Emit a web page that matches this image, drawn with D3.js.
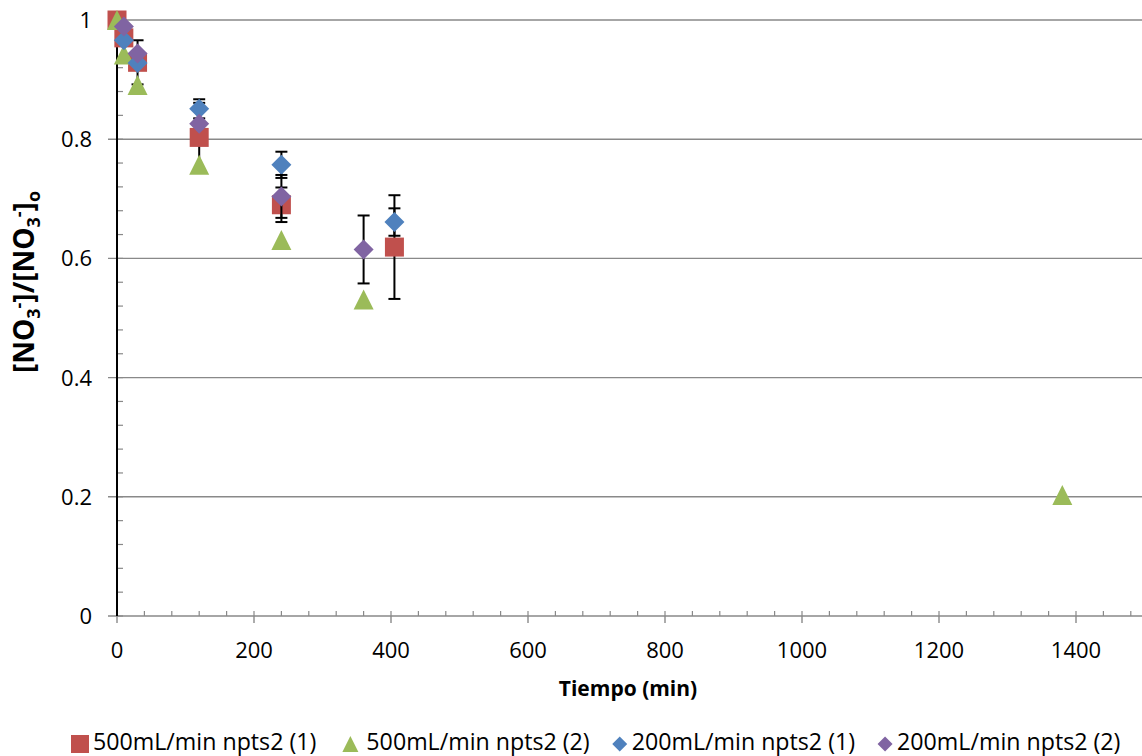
<!DOCTYPE html>
<html>
<head>
<meta charset="utf-8">
<script src="https://cdn.jsdelivr.net/npm/d3@7"></script>
<style>
  body { margin: 0; background: #fff; }
  svg { display: block; font-family: "Open Sans", sans-serif; }
</style>
</head>
<body>
<div id="chart"></div>
<script>
// ---- data ----
const seriesNames = ["500mL/min npts2 (1)", "500mL/min npts2 (2)", "200mL/min npts2 (1)", "200mL/min npts2 (2)"];
const seriesColors = ["#C0504D", "#9BBB59", "#4F81BD", "#8064A2"];
const seriesShapes = ["square", "triangle", "diamond", "diamond"];

const time1 = [0, 10, 30, 120, 240, 405];
const ratio1 = [1.0, 0.970, 0.929, 0.803, 0.690, 0.619];
const err1 = [0, 0, 0.037, 0.058, 0.029, 0.087];

const time2 = [0, 10, 30, 120, 240, 360, 1380];
const ratio2 = [1.0, 0.942, 0.891, 0.757, 0.631, 0.531, 0.203];
const err2 = [0, 0, 0, 0, 0, 0, 0];

const time3 = [10, 30, 120, 240, 405];
const ratio3 = [0.966, 0.928, 0.851, 0.757, 0.661];
const err3 = [0, 0, 0.016, 0.022, 0.023];

const time4 = [10, 30, 120, 240, 360];
const ratio4 = [0.989, 0.944, 0.826, 0.704, 0.615];
const err4 = [0, 0, 0, 0.036, 0.057];

const xTicks = [0, 200, 400, 600, 800, 1000, 1200, 1400];
const yTicks = [0, 0.2, 0.4, 0.6, 0.8, 1];

const W = 1142, H = 756;
const svg = d3.select("#chart").append("svg")
    .attr("width", W).attr("height", H);

const x = d3.scaleLinear().domain([0, 1500]).range([117, 1144.5]);
const y = d3.scaleLinear().domain([0, 1]).range([616, 20]);

const grey = "#898989";

// gridlines (also serve as the left major ticks)
svg.append("g").selectAll("line")
    .data(yTicks.filter(d => d > 0))
    .join("line")
    .attr("x1", 108).attr("x2", W)
    .attr("y1", d => y(d)).attr("y2", d => y(d))
    .attr("stroke", grey).attr("stroke-width", 1.4);

// x axis
const xAxis = svg.append("g");
xAxis.append("line")
    .attr("x1", 108).attr("x2", W).attr("y1", y(0)).attr("y2", y(0))
    .attr("stroke", grey).attr("stroke-width", 1.4);
xAxis.selectAll(".minor")
    .data(d3.range(0, 1500, 40))
    .join("line")
    .attr("x1", d => x(d)).attr("x2", d => x(d))
    .attr("y1", y(0)).attr("y2", y(0) - 5)
    .attr("stroke", grey).attr("stroke-width", 1.2);
xAxis.selectAll(".major")
    .data(xTicks)
    .join("line")
    .attr("x1", d => x(d)).attr("x2", d => x(d))
    .attr("y1", y(0)).attr("y2", y(0) + 7)
    .attr("stroke", grey).attr("stroke-width", 1.4);
xAxis.selectAll("text")
    .data(xTicks)
    .join("text")
    .attr("x", d => x(d)).attr("y", 658)
    .attr("text-anchor", "middle")
    .attr("font-size", 22)
    .text(d => d);

// y axis
const yAxis = svg.append("g");
yAxis.selectAll(".minor")
    .data(d3.range(0, 25).map(i => i * 0.04))
    .join("line")
    .attr("x1", x(0)).attr("x2", x(0) + 6)
    .attr("y1", d => y(d)).attr("y2", d => y(d))
    .attr("stroke", grey).attr("stroke-width", 1.2);
yAxis.append("line")
    .attr("x1", x(0)).attr("x2", x(0)).attr("y1", y(1)).attr("y2", y(0))
    .attr("stroke", "#000").attr("stroke-width", 2);
yAxis.selectAll("text")
    .data(yTicks)
    .join("text")
    .attr("x", 92).attr("y", d => y(d) + 8)
    .attr("text-anchor", "end")
    .attr("font-size", 22)
    .text(d => d);

// axis titles
svg.append("text")
    .attr("x", 628).attr("y", 696)
    .attr("text-anchor", "middle")
    .attr("font-size", 21).attr("font-weight", "bold")
    .text("Tiempo (min)");

const yt = svg.append("text")
    .attr("transform", "translate(34,282) rotate(-90)")
    .attr("text-anchor", "middle")
    .attr("font-size", 28).attr("font-weight", "bold");
yt.append("tspan").text("[NO");
yt.append("tspan").attr("dy", 6).attr("font-size", 18).text("3");
yt.append("tspan").attr("dy", -15).attr("font-size", 18).text("-");
yt.append("tspan").attr("dy", 9).text("]/[NO");
yt.append("tspan").attr("dy", 6).attr("font-size", 18).text("3");
yt.append("tspan").attr("dy", -15).attr("font-size", 18).text("-");
yt.append("tspan").attr("dy", 9).text("]");
yt.append("tspan").attr("dy", 6).attr("font-size", 18).text("o");

// markers
function shapePath(shape, r) {
  if (shape === "square") return `M${-r},${-r}H${r}V${r}H${-r}Z`;
  if (shape === "triangle") return `M0,${-r}L${r},${r}L${-r},${r}Z`;
  return `M0,${-r}L${r},0L0,${r}L${-r},0Z`;
}

const allSeries = [
  { t: time1, v: ratio1, e: err1 },
  { t: time2, v: ratio2, e: err2 },
  { t: time3, v: ratio3, e: err3 },
  { t: time4, v: ratio4, e: err4 }
];

allSeries.forEach((s, i) => {
  const pts = s.t.map((t, j) => ({ t: t, v: s.v[j], e: s.e[j] }));
  const g = svg.append("g");
  const eb = g.selectAll(".err")
      .data(pts.filter(d => d.e > 0))
      .join("g");
  eb.append("line")
      .attr("x1", d => x(d.t)).attr("x2", d => x(d.t))
      .attr("y1", d => y(d.v + d.e)).attr("y2", d => y(d.v - d.e))
      .attr("stroke", "#000").attr("stroke-width", 2);
  eb.append("line")
      .attr("x1", d => x(d.t) - 6).attr("x2", d => x(d.t) + 6)
      .attr("y1", d => y(d.v + d.e)).attr("y2", d => y(d.v + d.e))
      .attr("stroke", "#000").attr("stroke-width", 2);
  eb.append("line")
      .attr("x1", d => x(d.t) - 6).attr("x2", d => x(d.t) + 6)
      .attr("y1", d => y(d.v - d.e)).attr("y2", d => y(d.v - d.e))
      .attr("stroke", "#000").attr("stroke-width", 2);

  g.selectAll(".pt")
      .data(pts)
      .join("path")
      .attr("transform", d => `translate(${x(d.t)},${y(d.v)})`)
      .attr("d", shapePath(seriesShapes[i], seriesShapes[i] === "square" ? 9.5 : 10))
      .attr("fill", seriesColors[i]);
});

// legend
const legend = svg.append("g");
const textOffset = { square: 13, triangle: 16, diamond: 12 };
const gapBefore = { square: 0, triangle: 34, diamond: 30 };
let lx = 80;
let prevEnd = null;
seriesNames.forEach((name, i) => {
  const shape = seriesShapes[i];
  if (prevEnd !== null) lx = prevEnd + gapBefore[shape];
  const r = shape === "square" ? 9 : (shape === "triangle" ? 8 : 7.5);
  legend.append("path")
      .attr("transform", `translate(${lx},744)`)
      .attr("d", shapePath(shape, r))
      .attr("fill", seriesColors[i]);
  const tx = legend.append("text")
      .attr("x", lx + textOffset[shape]).attr("y", 750)
      .attr("font-size", 23.2)
      .text(name);
  prevEnd = lx + textOffset[shape] + tx.node().getComputedTextLength();
});
</script>
</body>
</html>
